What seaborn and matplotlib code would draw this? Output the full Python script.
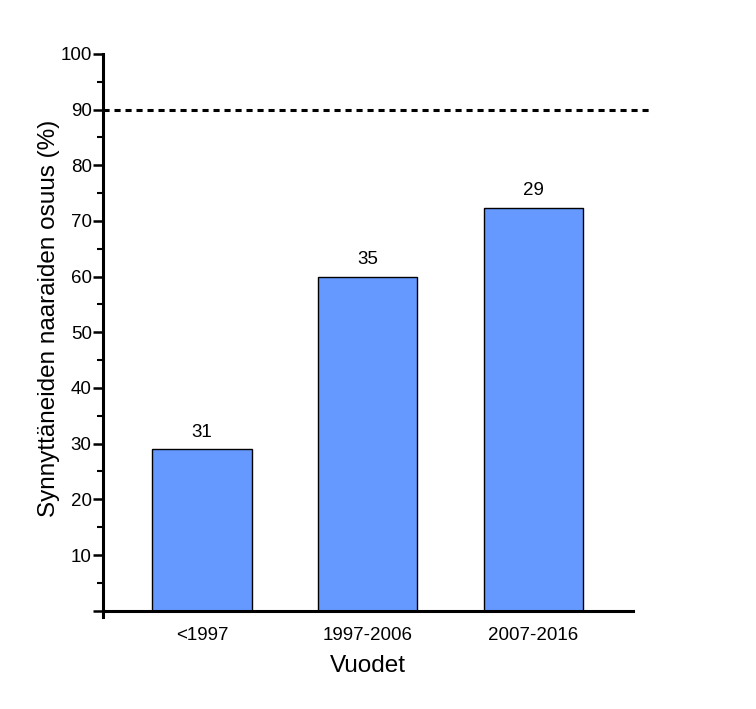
import matplotlib
matplotlib.use("Agg")
import matplotlib.pyplot as plt
import pandas as pd
import seaborn as sns
from matplotlib.ticker import MultipleLocator

# Data
periods = ["<1997", "1997-2006", "2007-2016"]
female_share = [29, 60, 72.4]
counts = ["31", "35", "29"]
target_line = 90

sns.set_theme(style="ticks")
plt.rcParams["font.family"] = ["Liberation Sans", "DejaVu Sans"]
plt.rcParams.update({
    "text.color": "black",
    "axes.labelcolor": "black",
    "axes.edgecolor": "black",
    "xtick.color": "black",
    "ytick.color": "black",
})

df = pd.DataFrame({"period": periods, "share": female_share})

fig = plt.figure(figsize=(7.56, 7.09), dpi=100)
ax = fig.add_axes([0.136, 0.130, 0.701, 0.794])

sns.barplot(data=df, x="period", y="share", color="#6699ff", saturation=1,
            width=0.6, edgecolor="black", linewidth=1.0, ax=ax)

ax.bar_label(ax.containers[0], labels=counts, padding=6, fontsize=13.5)

ax.axhline(target_line, xmin=0, xmax=1.038, color="black", lw=2.2,
           linestyle=(0, (2, 1.6)), clip_on=False)

ax.set_xlim(-0.6, 2.6)
ax.set_ylim(-1.1, 100)
ax.yaxis.set_major_locator(MultipleLocator(10))
ax.yaxis.set_minor_locator(MultipleLocator(5))
ax.set_yticks(range(0, 101, 10))
ax.set_yticklabels([""] + [str(v) for v in range(10, 101, 10)])

ax.spines["top"].set_visible(False)
ax.spines["right"].set_visible(False)
ax.spines["left"].set_linewidth(2.2)
ax.spines["bottom"].set_linewidth(2.2)
ax.spines["bottom"].set_position(("data", 0))
ax.spines["left"].set_bounds(-1.1, 100)

ax.tick_params(axis="y", which="major", length=7, width=1.8, labelsize=13.5, pad=1)
ax.tick_params(axis="y", which="minor", length=4, width=1.5)
ax.tick_params(axis="x", length=0, labelsize=13.5, pad=12)

ax.set_xlabel("Vuodet", fontsize=17.5, labelpad=8)
ax.set_ylabel("Synnyttäneiden naaraiden osuus (%)", fontsize=17.5)
ax.yaxis.set_label_coords(-0.08, 0.53)

fig.savefig("out.png", dpi=100)
